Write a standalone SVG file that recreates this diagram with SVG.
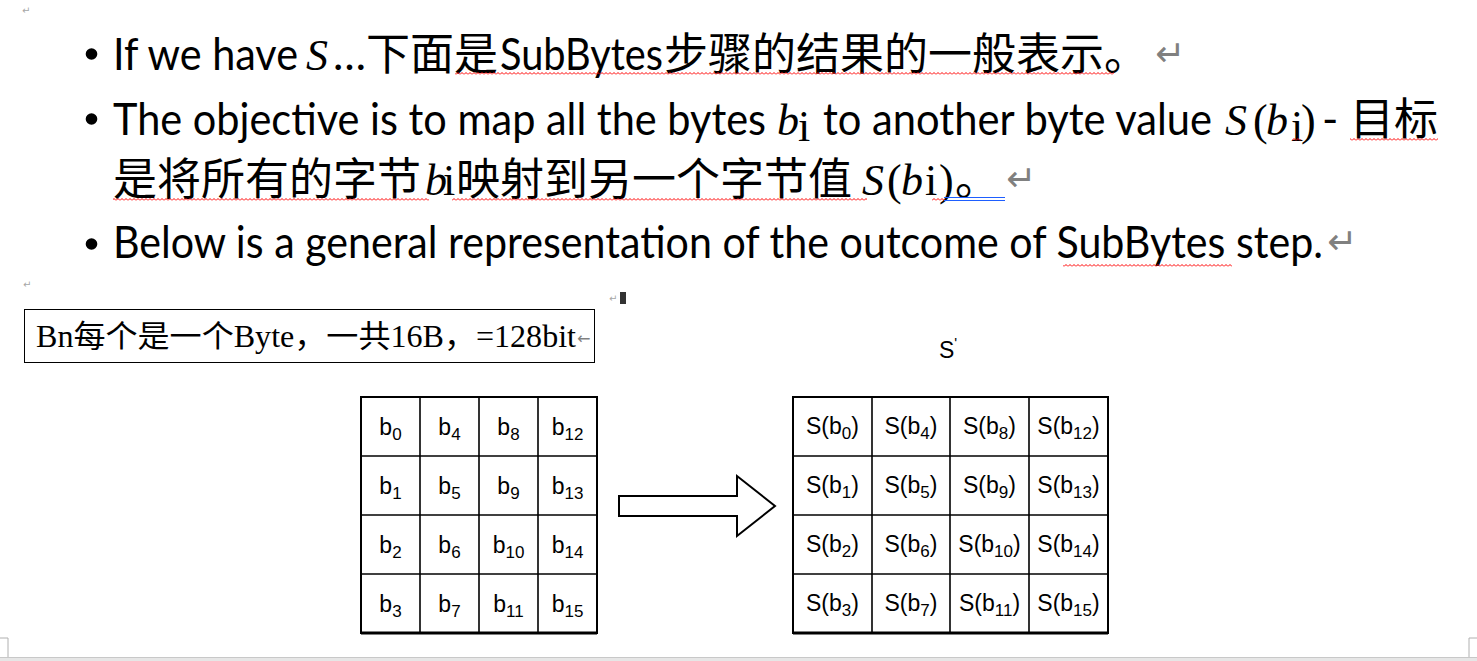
<svg xmlns="http://www.w3.org/2000/svg" width="1477" height="661" viewBox="0 0 1477 661">
<style>
.lat{font-family:Lato,"Liberation Sans",sans-serif;font-size:44px;fill:#000}
.cjk{font-family:"Noto Sans CJK SC",sans-serif;font-size:44px;fill:#000}
.mi{font-family:"Liberation Serif",serif;font-style:italic;font-size:44px;fill:#000}
.mu{font-family:"Liberation Serif",serif;font-size:44px;fill:#000}
.ret{font-family:"DejaVu Sans",sans-serif;font-size:36px;fill:#808080}
.pm{font-family:"DejaVu Sans",sans-serif;font-size:10px;fill:#a6a6a6}
.cell{font-family:"Liberation Sans",Arial,sans-serif;font-size:23px;fill:#000}
.grid{fill:none;stroke:#000;stroke-width:2}
.gl{stroke:#000;stroke-width:1.6}
.box{font-family:"Liberation Serif","Noto Sans CJK SC",serif;font-size:31px;fill:#000}
</style>
<defs>
<pattern id="wave" patternUnits="userSpaceOnUse" width="4" height="3">
<path d="M0 2.5 L2 0.5 L4 2.5" fill="none" stroke="#ff0000" stroke-width="1"/>
</pattern>
</defs>

<!-- page marks -->
<g id="page-marks">
<text class="pm" x="22" y="14">↵</text>
<text class="pm" x="23" y="288">↵</text>
<text class="pm" x="609" y="302">↵</text>
<rect x="620" y="292" width="6" height="12" fill="#333"/>
<path d="M0 638 H8 V657 M1477 638 H1469 V657" fill="none" stroke="#b0b0b0" stroke-width="1"/>
<rect x="0" y="657" width="1477" height="4" fill="#e6e6e6"/>
<line x1="0" y1="657.5" x2="1477" y2="657.5" stroke="#c8c8c8" stroke-width="1"/>
</g>

<!-- bullet text -->
<g id="bullets">
<circle cx="91.5" cy="54" r="5.8"/>
<circle cx="91.5" cy="119" r="5.8"/>
<circle cx="91.5" cy="244" r="5.8"/>

<!-- line 1 -->
<text class="lat" x="113" y="70" textLength="185" lengthAdjust="spacingAndGlyphs">If we have</text>
<text class="mi" x="306" y="70">S</text>
<text class="lat" x="333" y="70">…</text>
<text class="cjk" x="366" y="70">下面是</text>
<text class="lat" x="500" y="70" textLength="163" lengthAdjust="spacingAndGlyphs">SubBytes</text>
<text class="cjk" x="664" y="70">步骤的结果的一般表示。</text>
<text class="ret" x="1155" y="66">↵</text>

<!-- line 2 -->
<text class="lat" x="113" y="135" textLength="653" lengthAdjust="spacingAndGlyphs">The objective is to map all the bytes</text>
<text class="mi" x="777" y="135">b</text>
<text class="mu" x="798" y="141" font-size="24">i</text>
<text class="lat" x="823" y="135" textLength="389" lengthAdjust="spacingAndGlyphs">to another byte value</text>
<text class="mi" x="1225" y="135">S</text>
<text class="mu" x="1253" y="135">(</text>
<text class="mi" x="1266" y="135">b</text>
<text class="mu" x="1291" y="141" font-size="24">i</text>
<text class="mu" x="1301" y="135">)</text>
<text class="lat" x="1322" y="135">-</text>
<text class="cjk" x="1350" y="135">目标</text>

<!-- line 3 -->
<text class="cjk" x="113" y="195">是将所有的字节</text>
<text class="mi" x="425" y="195">b</text>
<text class="mu" x="443" y="195">i</text>
<text class="cjk" x="456" y="195">映射到另一个字节值</text>
<text class="mi" x="862" y="195">S</text>
<text class="mu" x="887" y="195">(</text>
<text class="mi" x="901" y="195">b</text>
<text class="mu" x="925" y="195">i</text>
<text class="mu" x="939" y="195">)</text>
<text class="cjk" x="955" y="195">。</text>
<text class="ret" x="1006" y="191">↵</text>

<!-- line 4 -->
<text class="lat" x="113" y="258" textLength="1210" lengthAdjust="spacingAndGlyphs">Below is a general representation of the outcome of SubBytes step.</text>
<text class="ret" x="1327" y="254">↵</text>

<!-- proofing underlines -->
<rect x="455" y="72" width="659" height="3" fill="url(#wave)"/>
<rect x="1292" y="138" width="9" height="3" fill="url(#wave)"/>
<rect x="1350" y="138" width="88" height="3" fill="url(#wave)"/>
<rect x="113" y="198" width="316" height="3" fill="url(#wave)"/>
<rect x="452" y="198" width="415" height="3" fill="url(#wave)"/>
<rect x="932" y="198" width="13" height="3" fill="url(#wave)"/>
<path d="M944 197.5 H1005 M944 200.5 H1005" stroke="#1e5eff" stroke-width="1"/>
<rect x="1063" y="264" width="169" height="3" fill="url(#wave)"/>
</g>

<!-- note box -->
<g id="note">
<rect x="24.5" y="309.5" width="570" height="53" fill="#fff" stroke="#000" stroke-width="1"/>
<text class="box" x="36" y="347" textLength="540" lengthAdjust="spacingAndGlyphs">Bn每个是一个Byte，一共16B，=128bit</text>
<text x="577" y="344" font-family="DejaVu Sans,sans-serif" font-size="16" fill="#808080">←</text>
</g>

<!-- left state -->
<g id="state-in">
<rect class="grid" x="361" y="397" width="236" height="236"/>
<line class="gl" x1="420" y1="397" x2="420" y2="633"/>
<line class="gl" x1="479" y1="397" x2="479" y2="633"/>
<line class="gl" x1="538" y1="397" x2="538" y2="633"/>
<line class="gl" x1="361" y1="456" x2="597" y2="456"/>
<line class="gl" x1="361" y1="515" x2="597" y2="515"/>
<line class="gl" x1="361" y1="574" x2="597" y2="574"/>
<line x1="361" y1="633" x2="597" y2="633" stroke="#000" stroke-width="3"/>
<g class="cell" text-anchor="middle">
<text x="390.5" y="435">b<tspan font-size="17" dy="5">0</tspan></text>
<text x="449.5" y="435">b<tspan font-size="17" dy="5">4</tspan></text>
<text x="508.5" y="435">b<tspan font-size="17" dy="5">8</tspan></text>
<text x="567.5" y="435">b<tspan font-size="17" dy="5">12</tspan></text>
<text x="390.5" y="494">b<tspan font-size="17" dy="5">1</tspan></text>
<text x="449.5" y="494">b<tspan font-size="17" dy="5">5</tspan></text>
<text x="508.5" y="494">b<tspan font-size="17" dy="5">9</tspan></text>
<text x="567.5" y="494">b<tspan font-size="17" dy="5">13</tspan></text>
<text x="390.5" y="553">b<tspan font-size="17" dy="5">2</tspan></text>
<text x="449.5" y="553">b<tspan font-size="17" dy="5">6</tspan></text>
<text x="508.5" y="553">b<tspan font-size="17" dy="5">10</tspan></text>
<text x="567.5" y="553">b<tspan font-size="17" dy="5">14</tspan></text>
<text x="390.5" y="612">b<tspan font-size="17" dy="5">3</tspan></text>
<text x="449.5" y="612">b<tspan font-size="17" dy="5">7</tspan></text>
<text x="508.5" y="612">b<tspan font-size="17" dy="5">11</tspan></text>
<text x="567.5" y="612">b<tspan font-size="17" dy="5">15</tspan></text>
</g>
</g>

<!-- connector -->
<g id="connectors">
<path d="M619 496 H737 V476 L775 506 L737 536 V516 H619 Z" fill="#fff" stroke="#000" stroke-width="2" stroke-linejoin="miter"/>
</g>

<!-- right state -->
<g id="state-out">
<text class="cell" x="939" y="358" font-size="23">S<tspan font-size="15" dy="-10">'</tspan></text>
<rect class="grid" x="793" y="397" width="315" height="236"/>
<line class="gl" x1="872" y1="397" x2="872" y2="633"/>
<line class="gl" x1="950" y1="397" x2="950" y2="633"/>
<line class="gl" x1="1029" y1="397" x2="1029" y2="633"/>
<line class="gl" x1="793" y1="456" x2="1108" y2="456"/>
<line class="gl" x1="793" y1="515" x2="1108" y2="515"/>
<line class="gl" x1="793" y1="574" x2="1108" y2="574"/>
<line x1="793" y1="633" x2="1108" y2="633" stroke="#000" stroke-width="3"/>
<g class="cell" text-anchor="middle">
<text x="832.5" y="434">S(b<tspan font-size="17" dy="5">0</tspan><tspan dy="-5">)</tspan></text>
<text x="911" y="434">S(b<tspan font-size="17" dy="5">4</tspan><tspan dy="-5">)</tspan></text>
<text x="989.5" y="434">S(b<tspan font-size="17" dy="5">8</tspan><tspan dy="-5">)</tspan></text>
<text x="1068.5" y="434">S(b<tspan font-size="17" dy="5">12</tspan><tspan dy="-5">)</tspan></text>
<text x="832.5" y="493">S(b<tspan font-size="17" dy="5">1</tspan><tspan dy="-5">)</tspan></text>
<text x="911" y="493">S(b<tspan font-size="17" dy="5">5</tspan><tspan dy="-5">)</tspan></text>
<text x="989.5" y="493">S(b<tspan font-size="17" dy="5">9</tspan><tspan dy="-5">)</tspan></text>
<text x="1068.5" y="493">S(b<tspan font-size="17" dy="5">13</tspan><tspan dy="-5">)</tspan></text>
<text x="832.5" y="552">S(b<tspan font-size="17" dy="5">2</tspan><tspan dy="-5">)</tspan></text>
<text x="911" y="552">S(b<tspan font-size="17" dy="5">6</tspan><tspan dy="-5">)</tspan></text>
<text x="989.5" y="552">S(b<tspan font-size="17" dy="5">10</tspan><tspan dy="-5">)</tspan></text>
<text x="1068.5" y="552">S(b<tspan font-size="17" dy="5">14</tspan><tspan dy="-5">)</tspan></text>
<text x="832.5" y="611">S(b<tspan font-size="17" dy="5">3</tspan><tspan dy="-5">)</tspan></text>
<text x="911" y="611">S(b<tspan font-size="17" dy="5">7</tspan><tspan dy="-5">)</tspan></text>
<text x="989.5" y="611">S(b<tspan font-size="17" dy="5">11</tspan><tspan dy="-5">)</tspan></text>
<text x="1068.5" y="611">S(b<tspan font-size="17" dy="5">15</tspan><tspan dy="-5">)</tspan></text>
</g>
</g>
</svg>
